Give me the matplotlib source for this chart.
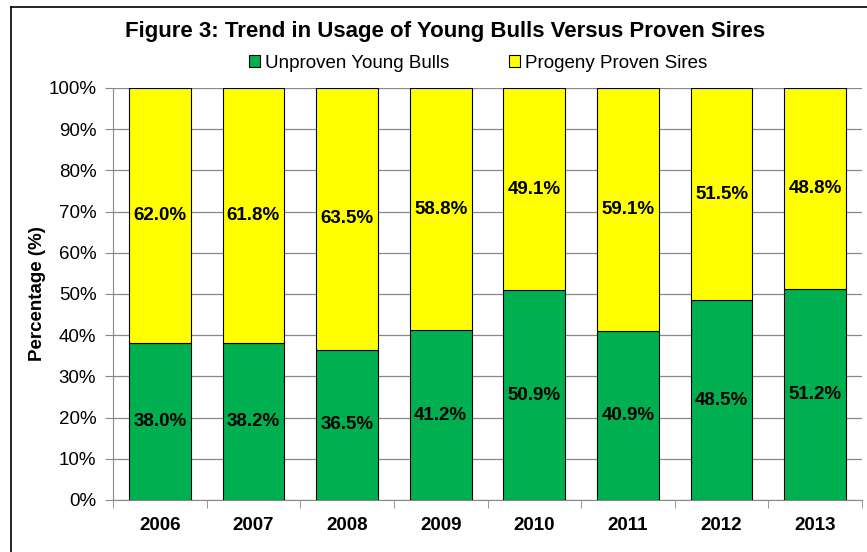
import matplotlib
matplotlib.use("Agg")
import matplotlib.pyplot as plt
from matplotlib.patches import Patch
from matplotlib.lines import Line2D
import numpy as np

years = ["2006", "2007", "2008", "2009", "2010", "2011", "2012", "2013"]
unproven = [38.0, 38.2, 36.5, 41.2, 50.9, 40.9, 48.5, 51.2]
proven = [62.0, 61.8, 63.5, 58.8, 49.1, 59.1, 51.5, 48.8]
yticks = [0, 10, 20, 30, 40, 50, 60, 70, 80, 90, 100]

plt.rcParams['font.family'] = ['Liberation Sans', 'DejaVu Sans']

GREEN = "#00B050"
YELLOW = "#FFFF00"

fig = plt.figure(figsize=(8.67, 5.52), dpi=100)
ax = fig.add_axes([113/867, 1-500/552, (862-113)/867, (500-88)/552])

x = np.arange(len(years))
w = 0.66
ax.bar(x, unproven, w, color=GREEN, edgecolor="black", linewidth=0.8, zorder=3)
ax.bar(x, proven, w, bottom=unproven, color=YELLOW, edgecolor="black", linewidth=0.8, zorder=3)

for i in range(len(years)):
    ax.text(x[i], unproven[i]/2, f"{unproven[i]:.1f}%", ha="center", va="center",
            fontsize=13.5, fontweight="bold", zorder=4)
    ax.text(x[i], unproven[i] + proven[i]/2, f"{proven[i]:.1f}%", ha="center", va="center",
            fontsize=13.5, fontweight="bold", zorder=4)

ax.set_xlim(-0.5, len(years)-0.5)
ax.set_ylim(0, 100)
ax.set_yticks(yticks)
ax.set_yticklabels([f"{v}%" for v in yticks], fontsize=13.5)
ax.set_xticks(x)
ax.set_xticklabels(years, fontsize=13.5, fontweight="bold")
ax.tick_params(axis="x", length=0, pad=12)
ax.set_xticks(np.arange(-0.5, len(years)), minor=True)
ax.tick_params(axis="x", which="minor", length=6, color="#888888", direction="out")
ax.tick_params(axis="y", length=6, color="#888888", direction="out", pad=6)
ax.grid(axis="y", color="#888888", linewidth=0.9, zorder=0)
for s in ["top", "right"]:
    ax.spines[s].set_visible(False)
for s in ["left", "bottom"]:
    ax.spines[s].set_color("#888888")
ax.set_ylabel("Percentage (%)", fontsize=13.5, fontweight="bold", labelpad=2)

fig.text(445/867, 1-32/552, "Figure 3: Trend in Usage of Young Bulls Versus Proven Sires",
         ha="center", va="center", fontsize=16, fontweight="bold")

handles = [Patch(facecolor=GREEN, edgecolor="black", linewidth=0.8),
           Patch(facecolor=YELLOW, edgecolor="black", linewidth=0.8)]
fig.legend(handles, ["Unproven Young Bulls", "Progeny Proven Sires"], ncol=2,
           loc="center", bbox_to_anchor=(478/867, 1-63/552), frameon=False,
           fontsize=13.5, handlelength=0.6, handleheight=0.6, handletextpad=0.25,
           columnspacing=3.2)

# outer border (left and top visible)
fig.add_artist(Line2D([11/867, 11/867], [0, 1-7/552], color="black", linewidth=1.2,
                      transform=fig.transFigure))
fig.add_artist(Line2D([11/867, 1], [1-7/552, 1-7/552], color="black", linewidth=1.2,
                      transform=fig.transFigure))

fig.savefig("out.png", dpi=100)
